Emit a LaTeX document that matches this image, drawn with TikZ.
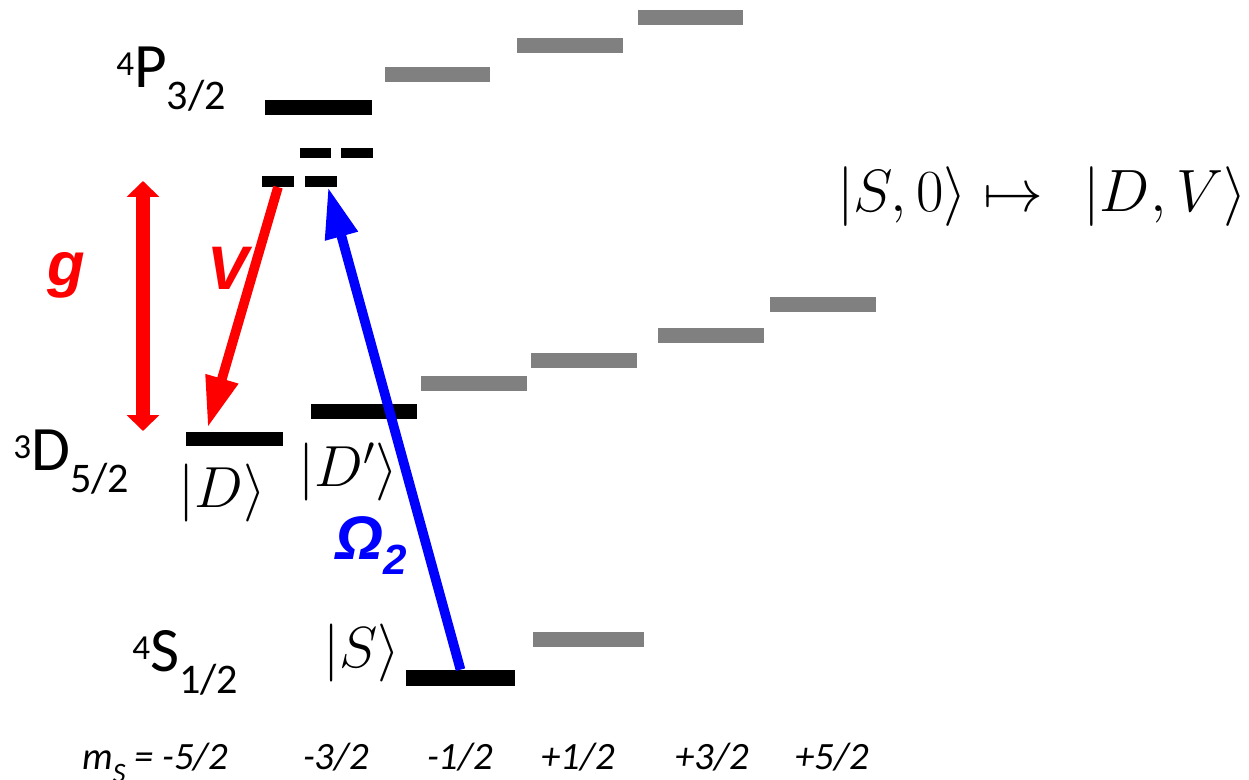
\RequirePackage{fix-cm}
\documentclass[tikz,border=0pt]{standalone}
\usepackage[no-math]{fontspec}
\setmainfont{Carlito}
\newfontfamily\arialfont{Liberation Sans}
\usepackage{tikz}
\usetikzlibrary{positioning,arrows.meta,calc}
\definecolor{lvlgray}{RGB}{128,128,128}
\newcommand{\termsym}[3]{\raisebox{7pt}{\fontsize{20}{24}\selectfont #1}#2\raisebox{-12pt}{\fontsize{24}{28}\selectfont #3}}

\begin{document}
\begin{tikzpicture}[x=0.02cm, y=-0.02cm,
  lvl/.style={rectangle, fill=black, inner sep=0pt, minimum width=2.12cm, minimum height=0.3cm},
  sublvl/.style={lvl, minimum width=0.63cm, minimum height=0.21cm},
  glvl/.style={lvl, fill=lvlgray},
  term/.style={anchor=base west, inner sep=0pt, font=\fontsize{36}{40}\selectfont},
  ket/.style={anchor=base, inner sep=0pt, font=\fontsize{33}{36}\selectfont},
  mlbl/.style={anchor=base, inner sep=0pt, font=\fontsize{22}{26}\selectfont\itshape},
  coup/.style={inner sep=0pt, font=\arialfont\bfseries\itshape\fontsize{35}{40}\selectfont},
  beam/.style={line width=5.5pt, -{Triangle[width=18pt,length=29pt]}}]
  \useasboundingbox (0,0) rectangle (1249,780);

  \node[lvl, minimum width=2.14cm] (pA) at (318.5,107.5) {};
  \node[sublvl, minimum height=0.2cm] (pa) at (315.5,153) {};
  \node[sublvl, minimum height=0.2cm] (pb) at (357,153) {};
  \node[sublvl] (pc) at (278,181.5) {};
  \node[sublvl] (pd) at (321,181.5) {};
  \node[glvl, minimum width=2.1cm] (pg1) at (437.5,74.5) {};
  \node[glvl] (pg2) at (570,45.5) {};
  \node[glvl, minimum width=2.1cm] (pg3) at (690.5,17.5) {};

  \node[lvl, minimum width=1.94cm, minimum height=0.28cm] (dA) at (234.5,439) {};
  \node[lvl] (dB) at (364,411.5) {};
  \node[glvl] (dg1) at (474,383.5) {};
  \node[glvl] (dg2) at (584,360.5) {};
  \node[glvl] (dg3) at (711,335.5) {};
  \node[glvl] (dg4) at (823,304.5) {};

  \node[lvl, minimum width=2.2cm, minimum height=0.32cm] (sA) at (460.5,678) {};
  \node[glvl, minimum width=2.24cm] (sg) at (588.5,639.5) {};

  \node[term] (pterm) at (116,88) {\termsym{4}{P}{3/2}};
  \node[term] (dterm) at (13,471) {\termsym{3}{D}{5/2}};
  \node[term] (sterm) at (132,672) {\termsym{4}{S}{1/2}};

  \node[ket] (kd) at (222,508) {$|D\rangle$};
  \node[ket] (kdp) at (348,487) {$|D'\rangle$};
  \node[ket] (ks) at (362,668) {$|S\rangle$};
  \node[ket, font=\fontsize{34}{38}\selectfont] (map) at (1042,212) {$|S,0\rangle \mapsto\,\ |D,V\rangle$};

  \node[mlbl, anchor=base west] (m0) at (82,770) {m\raisebox{-7pt}{\fontsize{16}{18}\selectfont S} = -5/2};
  \node[mlbl] (m1) at (336,770) {-3/2};
  \node[mlbl] (m2) at (460,770) {-1/2};
  \node[mlbl] (m3) at (578,770) {+1/2};
  \node[mlbl] (m4) at (712,770) {+3/2};
  \node[mlbl] (m5) at (832,770) {+5/2};

  \node[coup, anchor=base, text=red] (glbl) at (66,286) {g};
  \node[coup, anchor=base, text=red] (vlbl) at (228,290) {V};
  \node[coup, anchor=base west, text=blue] (olbl) at (335,560) {Ω\raisebox{-8pt}{\fontsize{24}{28}\selectfont 2}};

  \coordinate (gtop) at (143,181);
  \coordinate (gbot) at (143,431);
  \draw[red, line width=8.5pt, {Triangle[width=18pt,length=9pt]}-{Triangle[width=18pt,length=9pt]}] (gtop) -- (gbot);
  \draw[beam, red] (pc.south) -- ($(dA.north west)+(22,-4)$);
  \draw[beam, blue] (sA.north) -- ($(pd.south)+(7,0)$);
\end{tikzpicture}
\end{document}
